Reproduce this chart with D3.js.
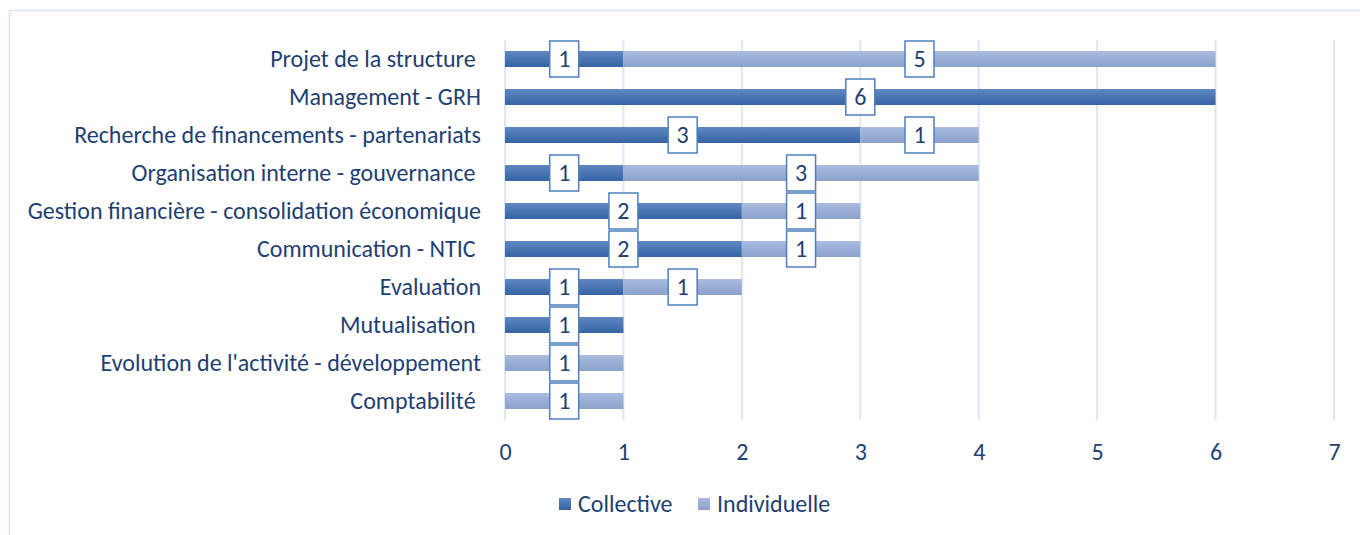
<!DOCTYPE html>
<html>
<head>
<meta charset="utf-8">
<script src="https://cdn.jsdelivr.net/npm/d3@7"></script>
<style>
  body { margin: 0; background: #fff; }
  text { font-family: Carlito, "Open Sans", sans-serif; fill: #1f3f73; }
</style>
</head>
<body>
<svg id="chart"></svg>
<script>
// chart data
const categories = [
  "Projet de la structure ",
  "Management - GRH",
  "Recherche de financements - partenariats",
  "Organisation interne - gouvernance ",
  "Gestion financière - consolidation économique",
  "Communication - NTIC ",
  "Evaluation",
  "Mutualisation ",
  "Evolution de l'activité - développement",
  "Comptabilité ",
];
const collective = [1, 6, 3, 1, 2, 2, 1, 1, 0, 0];
const individuelle = [5, 0, 1, 3, 1, 1, 1, 0, 1, 1];
const seriesNames = ["Collective", "Individuelle"];
const xTicks = [0, 1, 2, 3, 4, 5, 6, 7];

// canvas variables
const width = 1360;
const height = 535;
const plotLeft = 505;
const plotRight = 1334;
const plotTop = 40;
const plotBottom = 420;
const fontSize = 24;

const svg = d3.select("#chart").attr("width", width).attr("height", height);

// gradients for bars
const defs = svg.append("defs");
const grads = [
  ["gradC", "#6088c2", "#3563a4"],
  ["gradI", "#a9bbdf", "#8aa1cc"],
];
grads.forEach(([id, c1, c2]) => {
  const g = defs.append("linearGradient").attr("id", id)
    .attr("x1", 0).attr("y1", 0).attr("x2", 0).attr("y2", 1);
  g.append("stop").attr("offset", "0%").attr("stop-color", c1);
  g.append("stop").attr("offset", "100%").attr("stop-color", c2);
});
const fills = ["url(#gradC)", "url(#gradI)"];

// chart frame
svg.append("rect")
  .attr("x", 9.5).attr("y", 10.5)
  .attr("width", 1400).attr("height", 600)
  .attr("fill", "none").attr("stroke", "#dae3f3").attr("stroke-width", 1.5);

// scales
const xScale = d3.scaleLinear().domain([0, 7]).range([plotLeft, plotRight]);
const yScale = d3.scaleBand().domain(categories).range([plotTop, plotBottom]).paddingInner(0).paddingOuter(0);
const barH = 16;

// gridlines
svg.append("g")
  .selectAll("line")
  .data(xTicks)
  .enter()
  .append("line")
  .attr("x1", (d) => xScale(d))
  .attr("x2", (d) => xScale(d))
  .attr("y1", plotTop)
  .attr("y2", plotBottom)
  .attr("stroke", "#dce6f4")
  .attr("stroke-width", 2);

// x axis labels
const xAxis = svg.append("g")
  .attr("transform", `translate(0, ${plotBottom})`)
  .call(d3.axisBottom(xScale).tickValues(xTicks).tickSize(0).tickPadding(22).tickFormat(d3.format("d")));
xAxis.select(".domain").remove();
xAxis.selectAll("text")
  .attr("y", 32)
  .attr("dy", "0.35em")
  .style("font-size", fontSize + "px")
  .attr("fill", "#1f3f73");

// y axis labels
const yAxis = svg.append("g")
  .attr("transform", `translate(${plotLeft - 24}, 0)`)
  .call(d3.axisLeft(yScale).tickSize(0).tickPadding(0));
yAxis.select(".domain").remove();
yAxis.selectAll("text")
  .style("font-size", fontSize + "px")
  .style("white-space", "pre")
  .attr("fill", "#1f3f73");

// stacked data
const stacked = d3.stack().keys([0, 1])(categories.map((c, i) => [collective[i], individuelle[i]]));

stacked.forEach((layer, s) => {
  svg.append("g")
    .selectAll("rect")
    .data(layer)
    .enter()
    .append("rect")
    .attr("x", (d) => xScale(d[0]))
    .attr("width", (d) => xScale(d[1]) - xScale(d[0]))
    .attr("y", (d, i) => yScale(categories[i]) + yScale.bandwidth() / 2 - barH / 2)
    .attr("height", barH)
    .attr("fill", fills[s]);
});

// value labels
const boxW = 29;
const boxH = 36;
stacked.forEach((layer) => {
  const lbl = svg.append("g")
    .selectAll("g")
    .data(layer.map((d, i) => ({ d, i })).filter((o) => o.d[1] - o.d[0] > 0))
    .enter()
    .append("g")
    .attr("transform", (o) => {
      const cx = xScale((o.d[0] + o.d[1]) / 2);
      const cy = yScale(categories[o.i]) + yScale.bandwidth() / 2;
      return `translate(${cx}, ${cy})`;
    });
  lbl.append("rect")
    .attr("x", -boxW / 2).attr("y", -boxH / 2)
    .attr("width", boxW).attr("height", boxH)
    .attr("fill", "#fff").attr("stroke", "#4f7fbd").attr("stroke-width", 1.5);
  lbl.append("text")
    .attr("text-anchor", "middle")
    .attr("dy", "0.35em")
    .style("font-size", fontSize + "px")
    .text((o) => o.d[1] - o.d[0]);
});

// legend
const legend = svg.append("g").attr("transform", "translate(559, 504)");
const legendX = [0, 139];
seriesNames.forEach((name, i) => {
  const item = legend.append("g").attr("transform", `translate(${legendX[i]}, 0)`);
  item.append("rect").attr("x", 0).attr("y", -6).attr("width", 12).attr("height", 12).attr("fill", fills[i]);
  item.append("text").attr("x", 19).attr("dy", "0.35em").style("font-size", fontSize + "px").text(name);
});
</script>
</body>
</html>
